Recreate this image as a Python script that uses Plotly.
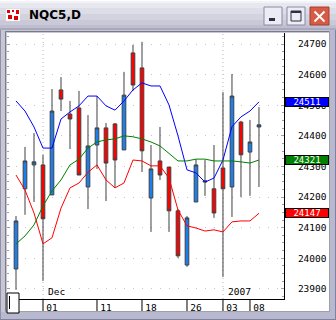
import plotly.graph_objects as go

# ---------------- data ----------------
dates = ["2006-11-28", "2006-11-29", "2006-11-30", "2006-12-01", "2006-12-04", "2006-12-05",
         "2006-12-06", "2006-12-07", "2006-12-08", "2006-12-11", "2006-12-12", "2006-12-13",
         "2006-12-14", "2006-12-15", "2006-12-18", "2006-12-19", "2006-12-20", "2006-12-21",
         "2006-12-22", "2006-12-26", "2006-12-27", "2006-12-28", "2006-12-29", "2007-01-03",
         "2007-01-04", "2007-01-05", "2007-01-08", "2007-01-09"]
opens = [23965, 24227, 24305, 24305, 24207, 24550, 24471, 24491, 24233, 24370, 24426, 24439, 24354, 24671,
         24622, 24197, 24318, 24298, 24155, 23978, 24184, 24249, 24227, 24295, 24233, 24445, 24347, 24429]
highs = [24138, 24364, 24409, 24338, 24553, 24592, 24514, 24547, 24468, 24530, 24442, 24442, 24609, 24697,
         24707, 24370, 24429, 24298, 24161, 24138, 24324, 24321, 24370, 24543, 24602, 24449, 24452, 24494]
lows = [23897, 24142, 24184, 23926, 24207, 24481, 24357, 24272, 24161, 24292, 24187, 24230, 24354, 24547,
        24282, 24086, 24256, 24086, 24001, 23972, 24184, 24204, 24132, 23939, 24135, 24200, 24204, 24233]
closes = [24122, 24318, 24315, 24129, 24481, 24520, 24455, 24272, 24367, 24426, 24311, 24321, 24533, 24566,
          24351, 24292, 24272, 24155, 24008, 24132, 24305, 24253, 24148, 24227, 24530, 24338, 24380, 24436]

blue_line = [24514, 24481, 24429, 24360, 24360, 24455, 24478, 24498, 24530, 24530, 24498, 24484, 24514, 24550,
             24573, 24563, 24563, 24501, 24400, 24289, 24279, 24249, 24262, 24321, 24430, 24462, 24481, 24511]
green_line = [24047, 24073, 24109, 24171, 24220, 24256, 24305, 24324, 24360, 24380, 24387, 24390, 24400, 24397,
              24390, 24380, 24367, 24344, 24318, 24318, 24324, 24324, 24318, 24318, 24318, 24315, 24311, 24321]
red_line = [24272, 24223, 24148, 24047, 24067, 24164, 24230, 24246, 24281, 24305, 24256, 24230, 24246, 24321,
            24318, 24302, 24302, 24262, 24158, 24106, 24099, 24089, 24093, 24086, 24119, 24122, 24122, 24147]

tick_dates = ["2006-12-01", "2006-12-11", "2006-12-18", "2006-12-26", "2007-01-03", "2007-01-08"]
tick_text = ["01", "11", "18", "26", "03", "08"]
month_marks = [("2006-12-01", "Dec"), ("2007-01-03", "2007")]
y_ticks = [23900, 24000, 24100, 24200, 24300, 24400, 24500, 24600, 24700]
y_text = [str(v) for v in y_ticks]
title = "NQC5,D"

# ---------------- geometry helpers ----------------
W, H = 336, 320
L, R, T, B = 7, 284, 33, 299
PW, PH = R - L, B - T


def px(x):
    return (x - L) / PW


def py(y):
    return (B - y) / PH


MONO = "DejaVu Sans Mono"

fig = go.Figure()
fig.add_trace(go.Candlestick(
    x=dates, open=opens, high=highs, low=lows, close=closes,
    increasing=dict(fillcolor="#1A7FF0", line=dict(color="#404040", width=1)),
    decreasing=dict(fillcolor="#FF0000", line=dict(color="#404040", width=1)),
    whiskerwidth=0, showlegend=False, hoverinfo="skip"))
for vals, col in [(blue_line, "#0000FF"), (green_line, "#008000"), (red_line, "#FF0000")]:
    fig.add_trace(go.Scatter(x=dates, y=vals, mode="lines", line=dict(color=col, width=1),
                             showlegend=False, hoverinfo="skip"))

shapes = []


def rect(x0, y0, x1, y1, fill, line=None, lw=0, layer="above"):
    shapes.append(dict(type="rect", xref="paper", yref="paper", x0=px(x0), x1=px(x1),
                       y0=py(y0), y1=py(y1), fillcolor=fill,
                       line=dict(color=line or fill, width=lw), layer=layer))


def pline(x0, y0, x1, y1, color, w=1, dash="solid"):
    shapes.append(dict(type="line", xref="paper", yref="paper", x0=px(x0), x1=px(x1),
                       y0=py(y0), y1=py(y1), line=dict(color=color, width=w, dash=dash), layer="above"))


# month separators (dotted verticals inside plot)
for d, _ in month_marks:
    shapes.append(dict(type="line", xref="x", yref="paper", x0=d, x1=d, y0=0, y1=1,
                       line=dict(color="#B8B8B8", width=1, dash="1px,3px"), layer="below"))
# tick separators under x axis
for d in tick_dates:
    shapes.append(dict(type="line", xref="x", yref="paper", x0=d, x1=d, y0=0, y1=py(312),
                       line=dict(color="#000000", width=1), layer="above"))

# title bar gradient
bands = [(0, 1, "#FDFDFF"), (1, 3, "#F2F2F7"), (3, 8, "#E7E7EF"), (8, 14, "#DDDDE7"),
         (14, 20, "#D3D3DF"), (20, 25, "#C9C9D8"), (25, 28, "#BEBED0"), (28, 30, "#A9A9BE")]
for y0, y1, c in bands:
    rect(0, y0, W, y1, c)
# frame
rect(0, 30, L, H, "#C6C6D4")
rect(0, 30, W, T, "#C6C6D4")
rect(330, 30, W, H, "#B8B8CE")
rect(0, 312, W, H, "#B8B8CE")
pline(0.5, 30, 0.5, H, "#9090A8")
pline(5.5, 31.5, 5.5, 312, "#7A7A88")
pline(5.5, 31.5, 330, 31.5, "#7A7A88")
pline(329.5, 31, 329.5, 312, "#A0A0A8")
pline(5, 311.5, 330, 311.5, "#A0A0A8")
pline(0, 319.5, W, 319.5, "#8080A0")
pline(335.5, 30, 335.5, H, "#8080A0")
# icon
rect(6, 9, 20, 21, "#FFFFFF")
rect(7, 10, 10, 13, "#E00000")
rect(12, 10, 14, 12, "#E00000")
rect(16, 10, 19, 14, "#E00000")
rect(8, 15, 12, 19, "#E00000")
rect(14, 16, 18, 20, "#E00000")
# buttons
rect(264, 7, 282, 25, "#ECECF4", "#8A8AA6", 1)
rect(269, 18, 275, 21, "#303040")
rect(287, 7, 305, 25, "#ECECF4", "#8A8AA6", 1)
rect(291, 11, 301, 21, "rgba(0,0,0,0)", "#303040", 1)
rect(291, 11, 301, 13, "#303040")
rect(310, 7, 329, 25, "#D95A44", "#A04030", 1)
pline(314.5, 11.5, 324.5, 21.5, "#FFFFFF", 2)
pline(324.5, 11.5, 314.5, 21.5, "#FFFFFF", 2)
# small box lower-left
rect(7, 293, 19, 313, "#FFFFFF", "#000000", 1)
pline(9.5, 296, 9.5, 309, "#000000")

annotations = [dict(xref="paper", yref="paper", x=px(27), y=py(15.5), xanchor="left", yanchor="middle",
                    text="<b>" + title + "</b>", showarrow=False,
                    font=dict(family="DejaVu Sans", size=12, color="#000000"))]
for d, t in month_marks:
    annotations.append(dict(xref="x", yref="paper", x=d, y=0, xanchor="left", yanchor="bottom",
                            xshift=3, yshift=0, text=t, showarrow=False,
                            font=dict(family=MONO, size=9.5, color="#000000")))
for val, col in [(blue_line[-1], "#0000FF"), (green_line[-1], "#008000"), (red_line[-1], "#FF0000")]:
    annotations.append(dict(xref="paper", yref="y", x=px(285), y=val, xanchor="left", yanchor="middle",
                            text=str(val), showarrow=False, width=42, height=8, align="center",
                            bgcolor=col, bordercolor="#000000", borderwidth=1, borderpad=0,
                            font=dict(family=MONO, size=9, color="#FFFFFF")))

fig.update_layout(
    width=W, height=H, margin=dict(l=L, r=W - R, t=T, b=H - B),
    paper_bgcolor="#FFFFFF", plot_bgcolor="#FFFFFF",
    showlegend=False, shapes=shapes, annotations=annotations,
    boxgap=0.42,
    xaxis=dict(type="category", range=[-1, 29.78], rangeslider=dict(visible=False),
               showline=True, linecolor="#000000", linewidth=1, mirror=True,
               showgrid=False, zeroline=False, ticks="",
               tickvals=tick_dates, ticktext=tick_text, ticklabelshift=9,
               tickfont=dict(family=MONO, size=9.5, color="#000000")),
    yaxis=dict(side="right", range=[23867, 24736], tickvals=y_ticks, ticktext=y_text,
               showline=True, linecolor="#000000", linewidth=1, mirror="ticks",
               ticks="inside", ticklen=3, tickcolor="#A0A0A0",
               showgrid=True, gridcolor="#C4C4C4", griddash="1px,8px",
               minor=dict(dtick=25, tick0=23900, ticks="inside", ticklen=2, tickcolor="#A0A0A0",
                          showgrid=False),
               zeroline=False, ticklabelstandoff=11,
               tickfont=dict(family=MONO, size=9.5, color="#000000")),
)
fig.write_html("out.html")
